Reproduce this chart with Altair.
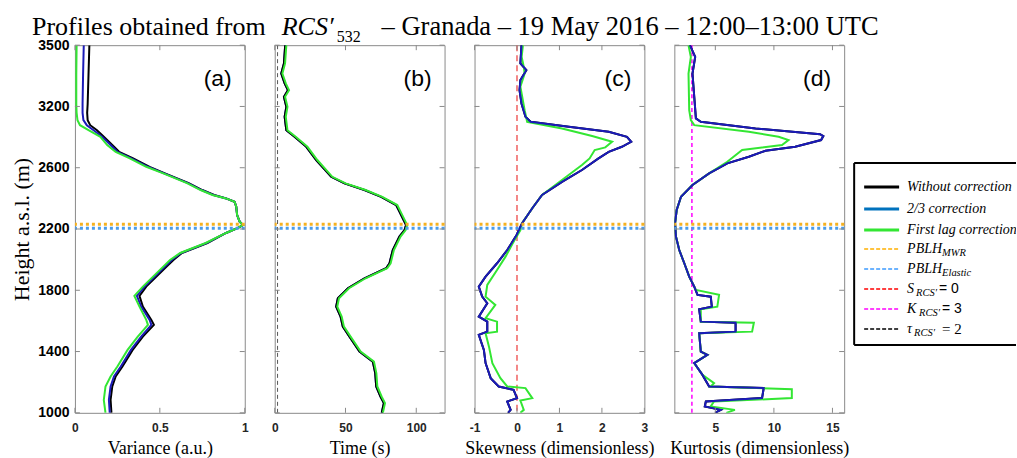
import altair as alt
import pandas as pd

SERIF = "Liberation Serif"
SANS = "Liberation Sans"
GRAY = "#8a8a8a"

# ---------------- data ----------------
Y_DOMAIN = [1000, 3500]
Y_TICKS = [1000, 1416.67, 1833.33, 2250, 2666.67, 3083.33, 3500]
Y_TICK_LABELS = ["1000", "1400", "1800", "2200", "2600", "3200", "3500"]
PBLH_MWR = [2282]
PBLH_ELASTIC = [2255]

# (a) variance
H_A = [3500, 3300, 3100, 3040, 2990, 2956, 2922, 2877, 2821, 2775, 2732, 2673, 2628, 2562,
       2515, 2481, 2458, 2435, 2401, 2345, 2300, 2277, 2257, 2223, 2155, 2087, 2039, 1994,
       1926, 1858, 1795, 1722, 1632, 1598, 1518, 1428, 1315, 1247, 1179, 1088, 1000]
VAR_BLACK = [0.085, 0.08, 0.075, 0.072, 0.075, 0.09, 0.13, 0.17, 0.22, 0.26, 0.34, 0.44, 0.53,
             0.67, 0.75, 0.82, 0.89, 0.94, 0.95, 0.955, 0.97, 0.99, 0.96, 0.89, 0.78, 0.63,
             0.58, 0.54, 0.48, 0.42, 0.38, 0.40, 0.45, 0.465, 0.40, 0.34, 0.28, 0.24, 0.22,
             0.21, 0.215]
VAR_BLUE = [0.052, 0.048, 0.045, 0.045, 0.05, 0.07, 0.11, 0.16, 0.21, 0.25, 0.33, 0.43, 0.525,
            0.665, 0.745, 0.815, 0.89, 0.94, 0.95, 0.955, 0.97, 0.99, 0.96, 0.89, 0.775, 0.625,
            0.57, 0.53, 0.47, 0.41, 0.365, 0.39, 0.44, 0.45, 0.39, 0.33, 0.27, 0.23, 0.21,
            0.20, 0.205]
VAR_GREEN = [0.01, 0.008, 0.008, 0.01, 0.015, 0.03, 0.08, 0.15, 0.19, 0.24, 0.32, 0.42, 0.52,
             0.66, 0.74, 0.81, 0.89, 0.94, 0.95, 0.955, 0.97, 0.99, 0.96, 0.89, 0.77, 0.62,
             0.56, 0.52, 0.46, 0.40, 0.35, 0.38, 0.42, 0.43, 0.37, 0.31, 0.25, 0.21, 0.18,
             0.17, 0.18]

# (b) integral time
H_B = [3500, 3376, 3307, 3240, 3194, 3149, 3081, 3013, 2922, 2877, 2809, 2719, 2605, 2560,
       2515, 2469, 2413, 2368, 2277, 2243, 2198, 2107, 2017, 1983, 1915, 1847, 1779, 1722,
       1654, 1586, 1518, 1416, 1348, 1270, 1179, 1111, 1066, 1000]
TIME_BLACK = [7.4, 6.5, 4.6, 7.0, 9.3, 6.5, 8.2, 7.0, 8.2, 14.0, 22.3, 29.3, 39.9, 49.3, 63.4,
              75.2, 85.8, 88.1, 92.8, 91.7, 88.1, 83.4, 81.1, 78.7, 63.4, 51.7, 44.6, 43.4,
              46.5, 48.1, 52.8, 59.9, 69.3, 71.0, 71.7, 74.7, 77.1, 75.6]
TIME_BLUE = [7.4, 6.5, 4.6, 7.0, 9.3, 6.5, 8.2, 7.0, 8.2, 14.0, 22.3, 29.3, 39.9, 49.3, 63.4,
             75.2, 85.8, 88.1, 92.8, 91.7, 88.1, 83.4, 81.1, 78.7, 63.4, 51.7, 44.6, 43.4,
             46.5, 48.1, 52.8, 59.9, 69.3, 71.0, 71.7, 74.7, 77.1, 75.6]
TIME_GREEN = [8.2, 7.3, 5.4, 7.8, 10.1, 7.3, 9.0, 7.8, 9.0, 14.8, 23.1, 30.1, 40.7, 50.1, 64.2,
              76.0, 86.6, 88.9, 93.6, 92.5, 88.9, 84.2, 81.9, 79.5, 64.2, 52.5, 45.4, 44.2,
              47.3, 48.9, 53.6, 60.7, 70.1, 71.8, 72.5, 75.5, 77.9, 76.4]

# (c) skewness
H_C_BLUE = [3500, 3376, 3330, 3262, 3194, 3104, 3013, 2979, 2945, 2911, 2877, 2843, 2809, 2775,
            2730, 2651, 2571, 2481, 2391, 2289, 2209, 2107, 2017, 1926, 1858, 1790, 1745, 1654,
            1620, 1552, 1530, 1428, 1338, 1236, 1179, 1156, 1100, 1077, 1020, 1000]
SKEW_BLUE = [0.106, 0.08, 0.22, 0.08, 0.06, 0.106, 0.2, 0.32, 1.22, 2.16, 2.59, 2.69, 2.47, 2.16,
             1.92, 1.53, 1.06, 0.59, 0.36, 0.12, -0.01, -0.23, -0.47, -0.74, -0.9, -0.82, -0.7,
             -0.9, -0.7, -0.7, -0.9, -0.78, -0.74, -0.62, -0.43, -0.08, 0.0, -0.23, -0.15, -0.21]
SKEW_BLACK = SKEW_BLUE
H_C_GREEN = [3500, 3420, 3352, 3307, 3217, 3058, 2979, 2934, 2882, 2843, 2805, 2787, 2730, 2685,
             2583, 2481, 2391, 2289, 2243, 2153, 2062, 1971, 1870, 1790, 1734, 1643, 1620, 1552,
             1541, 1450, 1338, 1236, 1179, 1168, 1100, 1084, 1020, 1000]
SKEW_GREEN = [0.14, 0.11, 0.16, 0.18, 0.08, 0.18, 0.24, 1.06, 1.77, 2.24, 2.08, 1.83, 1.71, 1.53,
              1.06, 0.59, 0.36, 0.12, 0.08, -0.1, -0.27, -0.47, -0.70, -0.74, -0.51, -0.74, -0.47,
              -0.47, -0.74, -0.66, -0.58, -0.39, -0.23, 0.2, 0.36, 0.08, 0.16, 0.08]

# (d) kurtosis
H_D_BLUE = [3500, 3420, 3307, 3149, 3002, 2979, 2934, 2895, 2882, 2855, 2809, 2782, 2741, 2696,
            2628, 2549, 2469, 2379, 2289, 2198, 2107, 2017, 1926, 1858, 1802, 1790, 1722, 1704,
            1620, 1613, 1552, 1541, 1416, 1394, 1338, 1258, 1179, 1168, 1100, 1077, 1043, 1020,
            1000]
KURT_BLUE = [2.83, 3.28, 3.05, 3.2, 3.34, 3.76, 8.43, 13.94, 14.22, 14.03, 11.82, 9.28, 7.86,
             6.02, 4.47, 3.05, 2.07, 1.70, 1.56, 1.64, 1.92, 2.35, 2.77, 3.20, 3.48, 4.61, 4.70,
             3.62, 3.76, 6.73, 6.73, 3.62, 3.76, 4.32, 3.2, 3.9, 4.47, 9.13, 8.99, 4.19, 4.1,
             5.46, 4.98]
KURT_BLACK = KURT_BLUE
H_D_GREEN = [3500, 3420, 3307, 3058, 2990, 2956, 2911, 2877, 2855, 2821, 2787, 2707, 2628, 2549,
             2469, 2379, 2289, 2198, 2107, 2017, 1926, 1836, 1802, 1722, 1704, 1620, 1613, 1552,
             1541, 1416, 1394, 1338, 1258, 1202, 1179, 1161, 1100, 1077, 1043, 1020, 1000]
KURT_GREEN = [2.71, 2.91, 2.71, 2.77, 2.91, 3.2, 7.86, 10.4, 11.25, 10.69, 7.29, 6.02, 4.47,
              3.05, 2.07, 1.70, 1.56, 1.64, 1.92, 2.35, 2.77, 3.34, 5.32, 5.17, 3.76, 3.76,
              8.29, 8.14, 3.62, 3.76, 4.32, 3.2, 3.9, 4.89, 4.6, 11.53, 11.53, 4.89, 4.6, 6.67,
              5.94]

TITLE_PARTS = ["Profiles obtained from", "RCS\u2032", "532",
               "\u2013 Granada \u2013 19 May 2016 \u2013 12:00\u201313:00  UTC"]

LEGEND_LABELS = ["Without  correction", "2/3  correction", "First lag  correction",
                 "PBLH", "PBLH", "S", "K", "\u03c4"]
LEGEND_SUBS = ["", "", "", "MWR", "Elastic", "RCS\u2032", "RCS\u2032", "RCS\u2032"]
LEGEND_TAILS = ["", "", "", "", "", "= 0", "= 3", "= 2"]
LEGEND_COLORS = ["#000000", "#0072bd", "#33e633", "#ffb000", "#3d9bff", "#ff0000",
                 "#ff00ff", "#000000"]

C_BLACK, C_BLUE, C_GREEN = "#000000", "#1a1ab8", "#33e633"
C_MWR, C_ELASTIC = "#f5b120", "#4a9be8"

# ---------------- layout ----------------
W, H = 170, 368


def seq(heights, values):
    return pd.DataFrame({"h": heights, "v": values, "i": list(range(len(heights)))})


def panel(letter, xtitle, xdomain, xticks, lines, vline=None, show_y=False, extra=()):
    xs = alt.Scale(domain=xdomain, nice=False, zero=False)
    ys = alt.Scale(domain=Y_DOMAIN, nice=False, zero=False)
    xaxis = alt.Axis(values=xticks, labelExpr="'' + datum.value", title=xtitle,
                     labelFont=SANS, labelFontWeight="bold", labelFontSize=12,
                     labelColor="#262626", labelFlush=False, labelOverlap=False,
                     labelPadding=10, domain=False, ticks=False, tickSize=0, grid=False,
                     titleFont=SERIF, titleFontSize=18, titleFontWeight="normal",
                     titleColor="black", titlePadding=6)
    if show_y:
        arr = "[" + ",".join("'%s'" % s for s in Y_TICK_LABELS) + "]"
        step = (Y_DOMAIN[1] - Y_DOMAIN[0]) / (len(Y_TICKS) - 1)
        yaxis = alt.Axis(values=Y_TICKS,
                         labelExpr="%s[round((datum.value - %d) / %f)]" % (arr, Y_DOMAIN[0], step),
                         title="Height a.s.l. (m)", labelFont=SANS, labelFontWeight="bold",
                         labelFontSize=14, labelColor="black", labelFlush=False,
                         labelOverlap=False, labelPadding=6, domain=False, ticks=False,
                         tickSize=0, grid=False, titleFont=SERIF, titleFontSize=22,
                         titleFontWeight="normal", titleColor="black", titlePadding=4)
    else:
        yaxis = None
    X = alt.X("v:Q", scale=xs, axis=xaxis)
    Y = alt.Y("h:Q", scale=ys, axis=yaxis)

    layers = []
    if vline is not None:
        val, col, dash, sw = vline
        layers.append(alt.Chart(pd.DataFrame({"v": [val]}))
                      .mark_rule(color=col, strokeDash=dash, strokeWidth=sw)
                      .encode(x=X))
    for df, col in lines:
        layers.append(alt.Chart(df).mark_line(color=col, strokeWidth=2, clip=True)
                      .encode(x=X, y=Y, order="i:Q"))
    layers.append(alt.Chart(pd.DataFrame({"h": PBLH_MWR}))
                  .mark_rule(color=C_MWR, strokeWidth=3, strokeDash=[3, 3]).encode(y=Y))
    layers.append(alt.Chart(pd.DataFrame({"h": PBLH_ELASTIC}))
                  .mark_rule(color=C_ELASTIC, strokeWidth=3, strokeDash=[3, 3]).encode(y=Y))
    # inward ticks (MATLAB style box)
    xt = pd.DataFrame({"v": xticks})
    yt = pd.DataFrame({"h": Y_TICKS})
    layers.append(alt.Chart(xt).mark_rule(color=GRAY)
                  .encode(x=X, y=alt.value(H - 5), y2=alt.value(H)))
    layers.append(alt.Chart(xt).mark_rule(color=GRAY)
                  .encode(x=X, y=alt.value(0), y2=alt.value(5)))
    layers.append(alt.Chart(yt).mark_rule(color=GRAY)
                  .encode(y=Y, x=alt.value(0), x2=alt.value(5)))
    layers.append(alt.Chart(yt).mark_rule(color=GRAY)
                  .encode(y=Y, x=alt.value(W - 5), x2=alt.value(W)))
    layers.append(alt.Chart(pd.DataFrame({"t": ["(%s)" % letter]}))
                  .mark_text(font=SANS, fontSize=23, align="right", baseline="middle")
                  .encode(x=alt.value(W - 13), y=alt.value(34), text="t:N"))
    layers.extend(extra)
    return alt.layer(*layers).properties(width=W, height=H)


# title pieces placed above panel (a)
tdf = pd.DataFrame({"t": TITLE_PARTS})
title_layers = [
    alt.Chart(tdf.iloc[[0]]).mark_text(font=SERIF, fontSize=26, align="left",
                                       baseline="alphabetic")
    .encode(x=alt.value(-43), y=alt.value(-10), text="t:N"),
    alt.Chart(tdf.iloc[[1]]).mark_text(font=SERIF, fontSize=26, fontStyle="italic",
                                       align="left", baseline="alphabetic")
    .encode(x=alt.value(207), y=alt.value(-10), text="t:N"),
    alt.Chart(tdf.iloc[[2]]).mark_text(font=SERIF, fontSize=16, align="left",
                                       baseline="alphabetic")
    .encode(x=alt.value(262), y=alt.value(-3), text="t:N"),
    alt.Chart(tdf.iloc[[3]]).mark_text(font=SERIF, fontSize=26.5, align="left",
                                       baseline="alphabetic")
    .encode(x=alt.value(307), y=alt.value(-10), text="t:N"),
]

pa = panel("a", "Variance (a.u.)", [0, 1], [0, 0.5, 1],
           [(seq(H_A, VAR_BLACK), C_BLACK), (seq(H_A, VAR_BLUE), C_BLUE),
            (seq(H_A, VAR_GREEN), C_GREEN)],
           show_y=True, extra=title_layers)
pb = panel("b", "Time (s)", [0, 120], [0, 50, 100],
           [(seq(H_B, TIME_BLUE), C_BLUE), (seq(H_B, TIME_BLACK), C_BLACK),
            (seq(H_B, TIME_GREEN), C_GREEN)],
           vline=(2, "#555555", [4, 3], 1))
pc = panel("c", "Skewness (dimensionless)", [-1, 3], [-1, 0, 1, 2, 3],
           [(seq(H_C_BLUE, SKEW_BLACK), C_BLACK), (seq(H_C_GREEN, SKEW_GREEN), C_GREEN),
            (seq(H_C_BLUE, SKEW_BLUE), C_BLUE)],
           vline=(0, "#f06060", [6, 4], 1.5))
pd_ = panel("d", "Kurtosis (dimensionless)", [1.5, 16], [5, 10, 15],
            [(seq(H_D_BLUE, KURT_BLACK), C_BLACK), (seq(H_D_GREEN, KURT_GREEN), C_GREEN),
             (seq(H_D_BLUE, KURT_BLUE), C_BLUE)],
            vline=(3, "#ff00ff", [4, 3], 1.5))

# ---------------- legend panel ----------------
LW = 142
ROW_Y = [142, 164, 185, 204, 224, 244, 264, 284]
SUB_X = [0, 0, 0, 68, 68, 42, 45, 40]
TAIL_X = [0, 0, 0, 0, 0, 65, 68, 68]
leg = pd.DataFrame({"label": LEGEND_LABELS, "sub": LEGEND_SUBS, "tail": LEGEND_TAILS,
                    "color": LEGEND_COLORS, "py": ROW_Y, "sx": SUB_X, "tx": TAIL_X})
leg["sy"] = leg["py"] + 4
PY = alt.Y("py:Q", scale=None)

box_top, box_bot = 118, 300
box = pd.DataFrame({"a": [box_top], "b": [box_bot]})
legend_layers = [
    alt.Chart(box).mark_rule(color="black", strokeWidth=2)
    .encode(x=alt.value(-20), y=alt.Y("a:Q", scale=None), y2="b:Q"),
    alt.Chart(box).mark_rule(color="black", strokeWidth=2)
    .encode(y=alt.Y("a:Q", scale=None), x=alt.value(-20), x2=alt.value(LW)),
    alt.Chart(box).mark_rule(color="black", strokeWidth=2)
    .encode(y=alt.Y("b:Q", scale=None), x=alt.value(-20), x2=alt.value(LW)),
    alt.Chart(leg.iloc[0:3]).mark_rule(strokeWidth=3)
    .encode(y=PY, x=alt.value(-10), x2=alt.value(25), color=alt.Color("color:N", scale=None)),
    alt.Chart(leg.iloc[3:8]).mark_rule(strokeWidth=1.5, strokeDash=[4, 2])
    .encode(y=PY, x=alt.value(-10), x2=alt.value(25), color=alt.Color("color:N", scale=None)),
    alt.Chart(leg).mark_text(font=SERIF, fontSize=14, fontStyle="italic", align="left",
                             baseline="middle", clip=True)
    .encode(y=PY, x=alt.value(33), text="label:N"),
    alt.Chart(leg.iloc[3:8]).mark_text(font=SERIF, fontSize=10.5, fontStyle="italic",
                                       align="left", baseline="middle", clip=True)
    .encode(y=alt.Y("sy:Q", scale=None), x=alt.X("sx:Q", scale=None), text="sub:N"),
    alt.Chart(leg.iloc[5:7]).mark_text(font=SANS, fontSize=14, align="left",
                                       baseline="middle", clip=True)
    .encode(y=PY, x=alt.X("tx:Q", scale=None), text="tail:N"),
    alt.Chart(leg.iloc[7:8]).mark_text(font=SERIF, fontSize=15, align="left",
                                       baseline="middle", clip=True)
    .encode(y=PY, x=alt.X("tx:Q", scale=None), text="tail:N"),
]
legend = alt.layer(*legend_layers).properties(
    width=LW, height=H, view=alt.ViewBackground(strokeOpacity=0))

chart = (
    alt.hconcat(pa, pb, pc, pd_, legend, spacing=30, bounds="flush")
    .properties(padding={"left": 10, "top": 13, "right": 0, "bottom": 0})
    .configure_view(stroke=GRAY, strokeWidth=1)
)

chart.save("out.html", embed_options={"renderer": "svg", "actions": False})
